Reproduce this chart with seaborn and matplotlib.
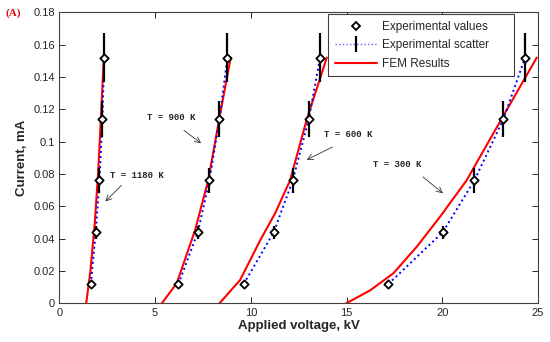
import matplotlib
matplotlib.use("Agg")
import matplotlib.pyplot as plt
import seaborn as sns
import numpy as np
import pandas as pd
from matplotlib.lines import Line2D
from matplotlib.ticker import FormatStrFormatter

# experimental currents (same levels for every temperature)
current = [0.012, 0.044, 0.076, 0.114, 0.152]
scatter_err = [0.002, 0.004, 0.008, 0.011, 0.015]

temps = ['1180 K', '900 K', '600 K', '300 K']
exp_voltage = {
    '1180 K': [1.64, 1.90, 2.09, 2.25, 2.34],
    '900 K': [6.22, 7.23, 7.84, 8.36, 8.78],
    '600 K': [9.63, 11.20, 12.19, 13.03, 13.62],
    '300 K': [17.19, 20.03, 21.68, 23.20, 24.33],
}

# FEM curves
fem_voltage = {
    '1180 K': [1.40, 1.62, 1.85, 2.02, 2.15, 2.32],
    '900 K': [5.35, 6.13, 7.09, 7.78, 8.35, 8.95],
    '600 K': [8.36, 9.44, 10.49, 11.27, 12.05, 12.93, 13.97],
    '300 K': [14.98, 16.23, 17.45, 18.67, 19.89, 21.27, 23.10, 24.94],
}
fem_current = {
    '1180 K': [0, 0.02, 0.05, 0.08, 0.11, 0.152],
    '900 K': [0, 0.0124, 0.0453, 0.0763, 0.114, 0.152],
    '600 K': [0, 0.0144, 0.039, 0.0557, 0.076, 0.114, 0.152],
    '300 K': [0, 0.008, 0.0186, 0.035, 0.0536, 0.076, 0.114, 0.152],
}

# label text position and arrow (tail, head) in data units
labels = {
    '1180 K': ((2.65, 0.0793), (3.34, 0.0742), (2.30, 0.0618)),
    '900 K': ((4.57, 0.115), (6.39, 0.108), (7.52, 0.098)),
    '600 K': ((13.8, 0.1045), (14.4, 0.0975), (12.79, 0.088)),
    '300 K': ((16.4, 0.086), (18.88, 0.0793), (20.15, 0.067)),
}

exp_df = pd.DataFrame({
    'T': np.repeat(temps, len(current)),
    'V': sum([exp_voltage[t] for t in temps], []),
    'I': current * len(temps),
    'err': scatter_err * len(temps),
})
fem_df = pd.DataFrame({
    'T': sum([[t] * len(fem_voltage[t]) for t in temps], []),
    'V': sum([fem_voltage[t] for t in temps], []),
    'I': sum([fem_current[t] for t in temps], []),
})

sns.set_style("ticks")
plt.rcParams['font.family'] = ['Liberation Sans', 'DejaVu Sans']

fig = plt.figure(figsize=(5.5, 3.42), dpi=100)
ax = fig.add_axes([0.108, 0.113, 0.870, 0.851])

# FEM results
sns.lineplot(data=fem_df, x='V', y='I', units='T', estimator=None, sort=False,
             color='#ff0000', lw=1.5, ax=ax)
# experimental scatter (blue dotted through measured points)
sns.lineplot(data=exp_df, x='V', y='I', units='T', estimator=None, sort=False,
             color='#0000ff', lw=1.4, ls=(0, (1, 1.6)), ax=ax)
ax.errorbar(exp_df['V'], exp_df['I'], yerr=exp_df['err'], fmt='none',
            ecolor='black', elinewidth=1.6, capsize=0, zorder=4)
sns.scatterplot(data=exp_df, x='V', y='I', marker='D', s=18, color='white',
                edgecolor='black', linewidth=1.3, zorder=5, ax=ax)

for t in temps:
    (tx, ty), tail, head = labels[t]
    ax.text(tx, ty, 'T = ' + t, family=['Liberation Mono', 'DejaVu Sans Mono'],
            fontsize=6.5, fontweight='bold', va='center', ha='left')
    ax.annotate('', xy=head, xytext=tail,
                arrowprops=dict(arrowstyle='->', color='#333333', lw=0.6))

ax.set_xlim(0, 25)
ax.set_ylim(0, 0.18)
ax.set_xticks([0, 5, 10, 15, 20, 25])
ax.set_yticks(np.arange(0, 0.181, 0.02))
ax.yaxis.set_major_formatter(FormatStrFormatter('%g'))
ax.tick_params(direction='in', top=True, right=True, length=4, width=0.7,
               labelsize=8, pad=3)
for s in ax.spines.values():
    s.set_linewidth(0.8)
    s.set_color('#404040')
ax.set_xlabel('Applied voltage, kV', fontsize=9.5, fontweight='bold', labelpad=2)
ax.set_ylabel('Current, mA', fontsize=9.5, fontweight='bold', labelpad=4)

handles = [
    Line2D([], [], ls='none', marker='D', ms=4.2, mfc='white', mec='black', mew=1.3),
    (Line2D([], [], ls='none', marker='|', ms=11, mew=1.6, color='black'),
     Line2D([], [], color='#0000ff', ls=(0, (1, 1.6)), lw=1.0, alpha=0.6)),
    Line2D([], [], color='#ff0000', lw=1.5),
]
leg = ax.legend(handles, ['Experimental values', 'Experimental scatter', 'FEM Results'],
                loc='upper left', bbox_to_anchor=(0.562, 0.993, 0.388, 0), mode='expand',
                borderaxespad=0, fontsize=8.5, frameon=True, fancybox=False,
                handlelength=3.55, handletextpad=0.42, borderpad=0.55,
                labelspacing=0.55, edgecolor='#404040', framealpha=1)
leg.get_frame().set_linewidth(0.8)

fig.text(0.01, 0.955, '(A)', color='#e01010', fontweight='bold', fontsize=8,
         family=['Liberation Serif', 'DejaVu Serif'])

fig.savefig('out.png', dpi=100)
